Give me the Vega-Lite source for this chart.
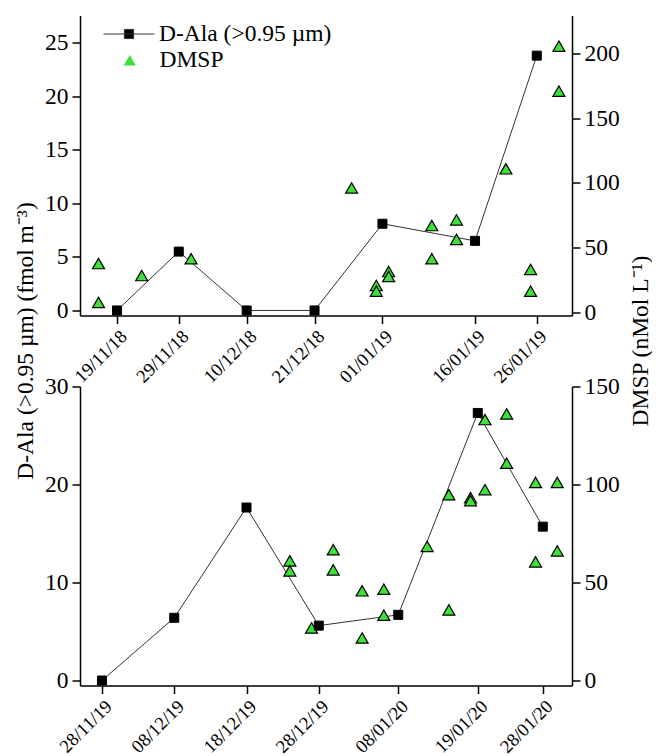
{
  "$schema": "https://vega.github.io/schema/vega-lite/v6.json",
  "padding": {"left": 13, "top": 7.5, "right": 0, "bottom": 0},
  "bounds": "flush",
  "spacing": 71,
  "config": {
    "font": "Liberation Serif",
    "view": {"stroke": null},
    "axis": {
      "grid": false, "domainColor": "#000000", "domainWidth": 1.5,
      "tickColor": "#000000", "tickWidth": 1.5, "tickSize": 8, "labelPadding": 4,
      "labelFont": "Liberation Serif", "labelFontSize": 23.5, "labelColor": "#000000",
      "titleFont": "Liberation Serif", "titleFontSize": 23.5, "titleFontWeight": "normal", "titleColor": "#000000",
      "labelFlush": false, "labelOverlap": false
    },
    "legend": {"labelFont": "Liberation Serif", "labelLimit": 0}
  },
  "datasets": {
    "top_dala": [
      {"date": "2018-11-19", "value": 0, "series": "D-Ala (>0.95 µm)"},
      {"date": "2018-11-29", "value": 5.5, "series": "D-Ala (>0.95 µm)"},
      {"date": "2018-12-10", "value": 0, "series": "D-Ala (>0.95 µm)"},
      {"date": "2018-12-21", "value": 0, "series": "D-Ala (>0.95 µm)"},
      {"date": "2019-01-01", "value": 8.1, "series": "D-Ala (>0.95 µm)"},
      {"date": "2019-01-16", "value": 6.5, "series": "D-Ala (>0.95 µm)"},
      {"date": "2019-01-26", "value": 23.8, "series": "D-Ala (>0.95 µm)"}
    ],
    "top_dmsp": [
      {"date": "2018-11-16", "value": 37.5, "series": "DMSP"},
      {"date": "2018-11-16", "value": 7.4, "series": "DMSP"},
      {"date": "2018-11-23", "value": 28.2, "series": "DMSP"},
      {"date": "2018-12-01", "value": 41.2, "series": "DMSP"},
      {"date": "2018-12-27", "value": 96, "series": "DMSP"},
      {"date": "2018-12-31", "value": 20.5, "series": "DMSP"},
      {"date": "2018-12-31", "value": 16.1, "series": "DMSP"},
      {"date": "2019-01-02", "value": 31.3, "series": "DMSP"},
      {"date": "2019-01-02", "value": 27.5, "series": "DMSP"},
      {"date": "2019-01-09", "value": 66.9, "series": "DMSP"},
      {"date": "2019-01-09", "value": 41.2, "series": "DMSP"},
      {"date": "2019-01-13", "value": 71.3, "series": "DMSP"},
      {"date": "2019-01-13", "value": 56.1, "series": "DMSP"},
      {"date": "2019-01-21", "value": 110.8, "series": "DMSP"},
      {"date": "2019-01-25", "value": 32.9, "series": "DMSP"},
      {"date": "2019-01-25", "value": 16.1, "series": "DMSP"},
      {"date": "2019-01-29T14:00:00Z", "value": 205.6, "series": "DMSP"},
      {"date": "2019-01-29T14:00:00Z", "value": 170.8, "series": "DMSP"}
    ],
    "bot_dala": [
      {"date": "2019-11-28", "value": 0, "series": "D-Ala (>0.95 µm)"},
      {"date": "2019-12-08", "value": 6.4, "series": "D-Ala (>0.95 µm)"},
      {"date": "2019-12-18", "value": 17.65, "series": "D-Ala (>0.95 µm)"},
      {"date": "2019-12-28", "value": 5.6, "series": "D-Ala (>0.95 µm)"},
      {"date": "2020-01-08", "value": 6.7, "series": "D-Ala (>0.95 µm)"},
      {"date": "2020-01-19", "value": 27.3, "series": "D-Ala (>0.95 µm)"},
      {"date": "2020-01-28", "value": 15.7, "series": "D-Ala (>0.95 µm)"}
    ],
    "bot_dmsp": [
      {"date": "2019-12-24", "value": 60.9, "series": "DMSP"},
      {"date": "2019-12-24", "value": 55.8, "series": "DMSP"},
      {"date": "2019-12-27", "value": 26.6, "series": "DMSP"},
      {"date": "2019-12-30", "value": 66.6, "series": "DMSP"},
      {"date": "2019-12-30", "value": 56.3, "series": "DMSP"},
      {"date": "2020-01-03", "value": 45.6, "series": "DMSP"},
      {"date": "2020-01-03", "value": 21.5, "series": "DMSP"},
      {"date": "2020-01-06", "value": 46.4, "series": "DMSP"},
      {"date": "2020-01-06", "value": 33.1, "series": "DMSP"},
      {"date": "2020-01-12", "value": 68.3, "series": "DMSP"},
      {"date": "2020-01-15", "value": 94.7, "series": "DMSP"},
      {"date": "2020-01-15", "value": 35.8, "series": "DMSP"},
      {"date": "2020-01-18", "value": 93.2, "series": "DMSP"},
      {"date": "2020-01-18", "value": 91.7, "series": "DMSP"},
      {"date": "2020-01-20", "value": 97.3, "series": "DMSP"},
      {"date": "2020-01-20", "value": 133.1, "series": "DMSP"},
      {"date": "2020-01-23", "value": 136, "series": "DMSP"},
      {"date": "2020-01-23", "value": 110.8, "series": "DMSP"},
      {"date": "2020-01-27", "value": 101, "series": "DMSP"},
      {"date": "2020-01-27", "value": 60.4, "series": "DMSP"},
      {"date": "2020-01-30", "value": 101, "series": "DMSP"},
      {"date": "2020-01-30", "value": 66, "series": "DMSP"}
    ]
  },
  "vconcat": [
    {
      "width": 492,
      "height": 300,
      "layer": [
        {
          "data": {"name": "top_dala"},
          "mark": {"type": "line", "color": "#333333", "strokeWidth": 1},
          "encoding": {
            "x": {"field": "date", "type": "temporal",
              "scale": {"type": "utc", "domain": [{"year": 2018, "month": 11, "date": 13, "utc": true}, {"year": 2019, "month": 1, "date": 31, "hours": 17, "utc": true}]},
              "axis": {"title": null, "format": "%d/%m/%y", "labelAngle": -45, "labelFont": "Liberation Serif", "labelFontSize": 18.5, "labelPadding": 3,
                "values": [{"year": 2018, "month": 11, "date": 19, "utc": true}, {"year": 2018, "month": 11, "date": 29, "utc": true}, {"year": 2018, "month": 12, "date": 10, "utc": true}, {"year": 2018, "month": 12, "date": 21, "utc": true}, {"year": 2019, "month": 1, "date": 1, "utc": true}, {"year": 2019, "month": 1, "date": 16, "utc": true}, {"year": 2019, "month": 1, "date": 26, "utc": true}]}},
            "y": {"field": "value", "type": "quantitative", "scale": {"domain": [-0.47, 27.55], "nice": false, "zero": false}, "axis": null}
          }
        },
        {
          "data": {"name": "top_dmsp"},
          "mark": {"type": "point", "filled": true, "fill": "#3ee03a", "stroke": "#000000", "strokeWidth": 1.2, "size": 144, "opacity": 1},
          "encoding": {
            "x": {"field": "date", "type": "temporal"},
            "y": {"field": "value", "type": "quantitative", "scale": {"domain": [-2.7, 229.4], "nice": false, "zero": false},
              "axis": {"orient": "right", "values": [0, 50, 100, 150, 200], "labelFont": "Liberation Serif", "titleFont": "Liberation Serif", "title": "DMSP (nMol L⁻¹)", "titleAngle": -90, "titleX": 68, "titleY": 325, "titleBaseline": "middle", "titleAlign": "center"}},
            "shape": {"field": "series", "type": "nominal", "scale": {"domain": ["DMSP"], "range": ["triangle-up"]},
              "legend": {"orient": "none", "legendX": 38, "legendY": 33, "title": null, "symbolSize": 144, "symbolOffset": 0, "symbolFillColor": "#3ee03a", "symbolStrokeColor": "#000000", "symbolStrokeWidth": 1.2, "labelFontSize": 23.5, "labelFont": "Liberation Serif", "labelColor": "#000000", "labelLimit": 0, "labelOffset": 18, "padding": 0}}
          }
        },
        {
          "data": {"name": "top_dala"},
          "mark": {"type": "square", "filled": true, "color": "#000000", "stroke": "#000000", "strokeWidth": 1, "size": 81, "opacity": 1},
          "encoding": {
            "x": {"field": "date", "type": "temporal"},
            "y": {"field": "value", "type": "quantitative", "scale": {"domain": [-0.47, 27.55], "nice": false, "zero": false},
              "axis": {"orient": "left", "values": [0, 5, 10, 15, 20, 25], "labelFont": "Liberation Serif", "titleFont": "Liberation Serif", "title": "D-Ala (>0.95 µm) (fmol m⁻³)", "titleAngle": -90, "titleX": -55, "titleY": 325, "titleBaseline": "middle", "titleAlign": "center"}},
            "fill": {"field": "series", "type": "nominal", "scale": {"domain": ["D-Ala (>0.95 µm)"], "range": ["#000000"]},
              "legend": {"orient": "none", "legendX": 23, "legendY": -7.5, "title": null, "symbolType": "M-1,0H1M-0.18,-0.18H0.18V0.18H-0.18Z", "symbolSize": 2601, "symbolOffset": 0, "symbolFillColor": "#000000", "symbolStrokeColor": "#333333", "symbolStrokeWidth": 1, "labelFontSize": 23.5, "labelFont": "Liberation Serif", "labelColor": "#000000", "labelLimit": 0, "labelOffset": 4, "padding": 0}}
          }
        }
      ],
      "resolve": {"scale": {"y": "independent"}}
    },
    {
      "width": 492,
      "height": 299,
      "layer": [
        {
          "data": {"name": "bot_dala"},
          "mark": {"type": "line", "color": "#333333", "strokeWidth": 1},
          "encoding": {
            "x": {"field": "date", "type": "temporal",
              "scale": {"type": "utc", "domain": [{"year": 2019, "month": 11, "date": 24, "hours": 23, "utc": true}, {"year": 2020, "month": 2, "date": 1, "hours": 1, "utc": true}]},
              "axis": {"title": null, "format": "%d/%m/%y", "labelAngle": -45, "labelFont": "Liberation Serif", "labelFontSize": 18.5, "labelPadding": 3,
                "values": [{"year": 2019, "month": 11, "date": 28, "utc": true}, {"year": 2019, "month": 12, "date": 8, "utc": true}, {"year": 2019, "month": 12, "date": 18, "utc": true}, {"year": 2019, "month": 12, "date": 28, "utc": true}, {"year": 2020, "month": 1, "date": 8, "utc": true}, {"year": 2020, "month": 1, "date": 19, "utc": true}, {"year": 2020, "month": 1, "date": 28, "utc": true}]}},
            "y": {"field": "value", "type": "quantitative", "scale": {"domain": [-0.51, 30], "nice": false, "zero": false}, "axis": null}
          }
        },
        {
          "data": {"name": "bot_dmsp"},
          "mark": {"type": "point", "filled": true, "shape": "triangle-up", "fill": "#3ee03a", "stroke": "#000000", "strokeWidth": 1.2, "size": 144, "opacity": 1},
          "encoding": {
            "x": {"field": "date", "type": "temporal"},
            "y": {"field": "value", "type": "quantitative", "scale": {"domain": [-2.8, 150], "nice": false, "zero": false},
              "axis": {"orient": "right", "values": [0, 50, 100, 150], "labelFont": "Liberation Serif", "title": null}}
          }
        },
        {
          "data": {"name": "bot_dala"},
          "mark": {"type": "square", "filled": true, "color": "#000000", "stroke": "#000000", "strokeWidth": 1, "size": 81, "opacity": 1},
          "encoding": {
            "x": {"field": "date", "type": "temporal"},
            "y": {"field": "value", "type": "quantitative", "scale": {"domain": [-0.51, 30], "nice": false, "zero": false},
              "axis": {"orient": "left", "values": [0, 10, 20, 30], "labelFont": "Liberation Serif", "title": null}}
          }
        }
      ],
      "resolve": {"scale": {"y": "independent"}}
    }
  ],
  "resolve": {"scale": {"fill": "independent", "shape": "independent"}, "legend": {"fill": "independent", "shape": "independent"}}
}
